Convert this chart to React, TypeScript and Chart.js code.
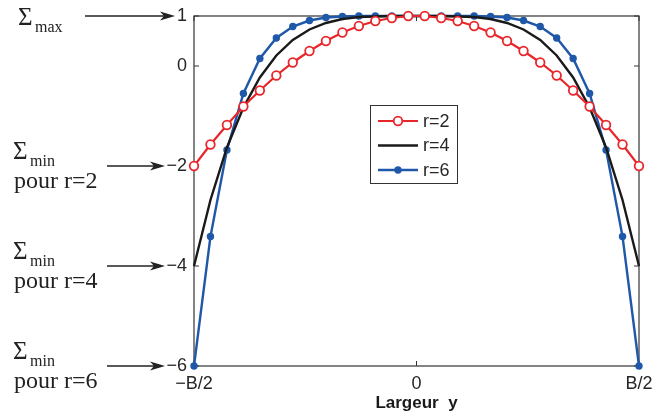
import React, { useEffect, useRef } from "react";
import { Chart, registerables } from "chart.js";

Chart.register(...registerables);

// ---- data ----
const xPositions = [
  -1, -0.926, -0.852, -0.778, -0.704, -0.63, -0.556, -0.481, -0.407, -0.333, -0.259, -0.185, -0.111, -0.037,
  0.037, 0.111, 0.185, 0.259, 0.333, 0.407, 0.481, 0.556, 0.63, 0.704, 0.778, 0.852, 0.926, 1,
];
const sigmaR2 = [
  -2, -1.57, -1.18, -0.81, -0.49, -0.19, 0.07, 0.3, 0.5, 0.67, 0.8, 0.9, 0.96, 1.0,
  1.0, 0.96, 0.9, 0.8, 0.67, 0.5, 0.3, 0.07, -0.19, -0.49, -0.81, -1.18, -1.57, -2,
];
const sigmaR4 = [
  -4, -2.68, -1.63, -0.83, -0.23, 0.21, 0.52, 0.73, 0.86, 0.94, 0.98, 0.99, 1.0, 1.0,
  1.0, 1.0, 0.99, 0.98, 0.94, 0.86, 0.73, 0.52, 0.21, -0.23, -0.83, -1.63, -2.68, -4,
];
const sigmaR6 = [
  -6, -3.41, -1.68, -0.55, 0.15, 0.56, 0.79, 0.91, 0.97, 0.99, 1.0, 1.0, 1.0, 1.0,
  1.0, 1.0, 1.0, 1.0, 0.99, 0.97, 0.91, 0.79, 0.56, 0.15, -0.55, -1.68, -3.41, -6,
];
const seriesLabels = ["r=2", "r=4", "r=6"];
const yTickValues = [1, 0, -2, -4, -6];
const xTickValues = [-1, 0, 1];
const xTickLabels = ["\u2212B/2", "0", "B/2"];
const xAxisTitle = "Largeur  y";
const annotationValues = [1, -2, -4, -6];
const annotationSubs = ["max", "min", "min", "min"];
const annotationPour = ["", "pour r=2", "pour r=4", "pour r=6"];

const RED = "#e8262b";
const BLACK = "#1a1a1a";
const BLUE = "#1f58a8";
const TEXT = "#262626";

const toPoints = (ys: number[]) => xPositions.map((x, i) => ({ x, y: ys[i] }));

const boxPlugin = {
  id: "matlabBox",
  beforeDatasetsDraw(chart: any) {
    const { ctx, chartArea } = chart;
    const { left, right, top, bottom } = chartArea;
    const ys = chart.scales.y;
    const xs = chart.scales.x;
    ctx.save();
    ctx.strokeStyle = "#333";
    ctx.lineWidth = 1.2;
    ctx.strokeRect(left, top, right - left, bottom - top);
    ctx.lineWidth = 1;
    ctx.beginPath();
    yTickValues.forEach((v) => {
      const p = ys.getPixelForValue(v);
      ctx.moveTo(left, p);
      ctx.lineTo(left + 5, p);
      ctx.moveTo(right, p);
      ctx.lineTo(right - 5, p);
    });
    xTickValues.forEach((v) => {
      const p = xs.getPixelForValue(v);
      ctx.moveTo(p, bottom);
      ctx.lineTo(p, bottom - 5);
      ctx.moveTo(p, top);
      ctx.lineTo(p, top + 5);
    });
    ctx.stroke();
    ctx.restore();
  },
};

const drawArrow = (ctx: CanvasRenderingContext2D, x1: number, x2: number, y: number) => {
  ctx.beginPath();
  ctx.moveTo(x1, y);
  ctx.lineTo(x2 - 8, y);
  ctx.stroke();
  ctx.beginPath();
  ctx.moveTo(x2, y);
  ctx.lineTo(x2 - 15, y - 4.5);
  ctx.lineTo(x2 - 11, y);
  ctx.lineTo(x2 - 15, y + 4.5);
  ctx.closePath();
  ctx.fill();
};

const annotationPlugin = {
  id: "sigmaNotes",
  afterDraw(chart: any) {
    const { ctx } = chart;
    const ys = chart.scales.y;
    ctx.save();
    ctx.fillStyle = "#222";
    ctx.strokeStyle = "#222";
    ctx.lineWidth = 1.3;
    ctx.textAlign = "left";
    ctx.textBaseline = "alphabetic";
    const serif = '"Liberation Serif", "Times New Roman", serif';
    annotationValues.forEach((v, i) => {
      const py = ys.getPixelForValue(v);
      if (i === 0) {
        drawArrow(ctx, 85, 175, py);
        ctx.font = `25px ${serif}`;
        ctx.fillText("\u03A3", 18, py + 9);
        ctx.font = `16px ${serif}`;
        ctx.fillText(annotationSubs[i], 35, py + 16);
      } else {
        drawArrow(ctx, 107, 165, py);
        ctx.font = `25px ${serif}`;
        ctx.fillText("\u03A3", 13, py - 7);
        ctx.font = `16px ${serif}`;
        ctx.fillText(annotationSubs[i], 30, py);
        ctx.font = `24px ${serif}`;
        ctx.fillText(annotationPour[i], 14, py + 22);
      }
    });
    ctx.restore();
  },
};

const legendPlugin = {
  id: "boxLegend",
  afterDatasetsDraw(chart: any) {
    const { ctx } = chart;
    const bx = 370.5, by = 105.5, bw = 87, bh = 78;
    ctx.save();
    ctx.fillStyle = "#fff";
    ctx.fillRect(bx, by, bw, bh);
    ctx.strokeStyle = "#333";
    ctx.lineWidth = 1;
    ctx.strokeRect(bx, by, bw, bh);
    chart.data.datasets.forEach((ds: any, i: number) => {
      const y = 121 + i * 24.5;
      ctx.strokeStyle = ds.borderColor;
      ctx.lineWidth = ds.borderWidth;
      ctx.beginPath();
      ctx.moveTo(378, y);
      ctx.lineTo(418, y);
      ctx.stroke();
      if (ds.pointRadius > 0) {
        ctx.beginPath();
        ctx.arc(398, y, ds.pointRadius, 0, Math.PI * 2);
        ctx.fillStyle = ds.pointBackgroundColor;
        ctx.fill();
        ctx.lineWidth = ds.pointBorderWidth;
        ctx.strokeStyle = ds.pointBorderColor;
        if (ds.pointBorderWidth > 0) ctx.stroke();
      }
      ctx.fillStyle = TEXT;
      ctx.font = '18px "Liberation Sans", Arial, sans-serif';
      ctx.textAlign = "left";
      ctx.textBaseline = "middle";
      ctx.fillText(ds.label, 423, y + 1);
    });
    ctx.restore();
  },
};

export default function App() {
  const canvasRef = useRef<HTMLCanvasElement | null>(null);

  useEffect(() => {
    if (!canvasRef.current) return;
    const chart = new Chart(canvasRef.current, {
      type: "line",
      data: {
        datasets: [
          {
            label: seriesLabels[0],
            data: toPoints(sigmaR2),
            borderColor: RED,
            borderWidth: 2.2,
            pointRadius: 4.3,
            pointBorderWidth: 1.8,
            pointBorderColor: RED,
            pointBackgroundColor: "#fff",
            pointStyle: "circle",
            clip: false,
          } as any,
          {
            label: seriesLabels[1],
            data: toPoints(sigmaR4),
            borderColor: BLACK,
            borderWidth: 2.4,
            pointRadius: 0,
            clip: false,
          } as any,
          {
            label: seriesLabels[2],
            data: toPoints(sigmaR6),
            borderColor: BLUE,
            borderWidth: 2.4,
            pointRadius: 3.7,
            pointBorderWidth: 0,
            pointBorderColor: BLUE,
            pointBackgroundColor: BLUE,
            clip: false,
          } as any,
        ],
      },
      options: {
        animation: false,
        responsive: false,
        devicePixelRatio: 1,
        layout: { padding: { left: 0, right: 13, top: 16, bottom: 0 } },
        plugins: {
          legend: { display: false },
          tooltip: { enabled: false },
        },
        scales: {
          x: {
            type: "linear",
            min: -1,
            max: 1,
            grid: { display: false, drawTicks: false, tickLength: 0 },
            border: { display: false },
            afterBuildTicks: (scale: any) => {
              scale.ticks = xTickValues.map((v) => ({ value: v }));
            },
            afterFit: (scale: any) => {
              scale.height = 48;
              scale.paddingLeft = 0;
              scale.paddingRight = 0;
            },
            ticks: {
              color: TEXT,
              padding: 7,
              maxRotation: 0,
              autoSkip: false,
              font: { family: '"Liberation Sans", Arial, sans-serif', size: 18 },
              callback: (v: any) => {
                const idx = xTickValues.indexOf(Number(v));
                return idx >= 0 ? xTickLabels[idx] : "";
              },
            },
            title: {
              display: true,
              text: xAxisTitle,
              color: "#1a1a1a",
              padding: { top: 0, bottom: 0 },
              font: { family: '"Liberation Sans", Arial, sans-serif', size: 17, weight: "bold" },
            },
          },
          y: {
            type: "linear",
            min: -6,
            max: 1,
            grid: { display: false, drawTicks: false, tickLength: 0 },
            border: { display: false },
            afterBuildTicks: (scale: any) => {
              scale.ticks = yTickValues.map((v) => ({ value: v }));
            },
            afterFit: (scale: any) => {
              scale.width = 194;
              scale.paddingTop = 0;
              scale.paddingBottom = 0;
            },
            ticks: {
              color: TEXT,
              padding: 7,
              autoSkip: false,
              font: { family: '"Liberation Sans", Arial, sans-serif', size: 18 },
              callback: (v: any) => {
                const n = Number(v);
                return n < 0 ? "\u2212" + Math.abs(n) : String(n);
              },
            },
          },
        },
      } as any,
      plugins: [boxPlugin, legendPlugin, annotationPlugin],
    });
    return () => chart.destroy();
  }, []);

  return (
    <div style={{ position: "absolute", left: 0, top: 0, width: 652, height: 414, background: "#fff" }}>
      <canvas ref={canvasRef} width={652} height={414} style={{ display: "block" }} />
    </div>
  );
}
